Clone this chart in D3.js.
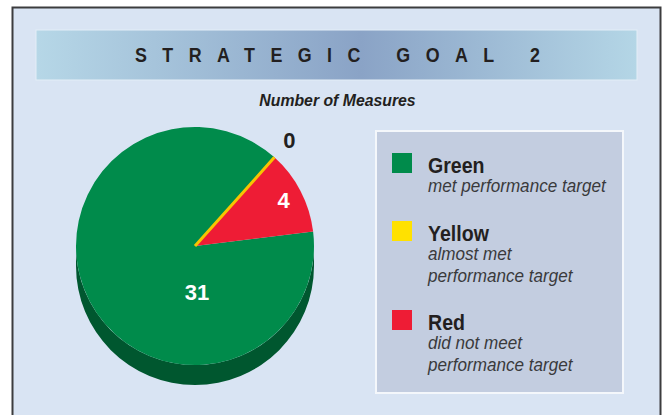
<!DOCTYPE html>
<html>
<head>
<meta charset="utf-8">
<script src="https://cdn.jsdelivr.net/npm/d3@7"></script>
<style>
  body { margin: 0; background: #fff; }
  text { font-family: "Liberation Sans", Arial, Helvetica, sans-serif; }
</style>
</head>
<body>
<svg id="chart" width="662" height="415"></svg>
<script>
var categories = ["Green", "Yellow", "Red"];
var values = [31, 0, 4];
var colors = ["#008b4b", "#ffe100", "#ee1c35"];
var descriptions = [
    ["met performance target"],
    ["almost met", "performance target"],
    ["did not meet", "performance target"]
];
var title = "STRATEGIC GOAL 2";
var subtitle = "Number of Measures";

(function StrategicGoal() {
    var svg = d3.select("#chart");

    // helper: text squeezed horizontally, the fonts here have no narrow cut
    function narrowText(parent, x, y, sx) {
        return parent.append("text")
                     .attr("transform", "translate(" + x + "," + y + ") scale(" + sx + ",1)");
    }

    var defs = svg.append("defs");
    var grad = defs.append("linearGradient").attr("id", "banner");
    grad.append("stop").attr("offset", "0%").attr("stop-color", "#b6d7e7");
    grad.append("stop").attr("offset", "54%").attr("stop-color", "#8aa3c6");
    grad.append("stop").attr("offset", "100%").attr("stop-color", "#b4d6e6");

    // outer frame
    svg.append("rect")
       .attr("x", 12.5).attr("y", 7.5)
       .attr("width", 648).attr("height", 420)
       .attr("fill", "#d9e4f3")
       .attr("stroke", "#3c3c3e")
       .attr("stroke-width", 2);

    // title banner
    svg.append("rect")
       .attr("x", 36).attr("y", 30)
       .attr("width", 601).attr("height", 50)
       .attr("fill", "url(#banner)")
       .attr("stroke", "#e4eef7")
       .attr("stroke-width", 1);

    var sxTitle = 0.85;
    narrowText(svg, 135, 62, sxTitle)
       .attr("textLength", 405 / sxTitle)
       .attr("lengthAdjust", "spacing")
       .style("font-size", "21px")
       .style("font-weight", "bold")
       .attr("fill", "#231f20")
       .text(title.replace(/ /g, "\u00a0"));

    narrowText(svg, 337.5, 106, 0.93)
       .attr("text-anchor", "middle")
       .style("font-size", "17px")
       .style("font-weight", "bold")
       .style("font-style", "italic")
       .attr("fill", "#231f20")
       .text(subtitle);

    // pie
    var cx = 195, cy = 246, radius = 119, depth = 20;
    var data = categories.map(function(c, i) {
        return { cat: c, value: values[i], color: colors[i] };
    });

    var pie = d3.pie()
                .sort(null)
                .value(function(d) { return d.value; })
                .startAngle(83 * Math.PI / 180)
                .endAngle(83 * Math.PI / 180 + 2 * Math.PI);

    var arcs = pie(data);

    var arc = d3.arc().innerRadius(0).outerRadius(radius);

    var g = svg.append("g")
               .attr("transform", "translate(" + cx + "," + cy + ")");

    // side wall, only the front half (angles pi/2 .. 3pi/2) shows
    function sidePath(a0, a1) {
        var p = function(t, dy) {
            return [radius * Math.sin(t), -radius * Math.cos(t) + dy];
        };
        var s = p(a0, 0), e = p(a1, 0), eb = p(a1, depth), sb = p(a0, depth);
        var large = (a1 - a0) > Math.PI ? 1 : 0;
        return "M" + s + "A" + radius + "," + radius + " 0 " + large + " 1 " + e +
               "L" + eb + "A" + radius + "," + radius + " 0 " + large + " 0 " + sb + "Z";
    }

    arcs.forEach(function(d) {
        [0, 2 * Math.PI].forEach(function(shift) {
            var lo = Math.max(d.startAngle, Math.PI / 2 + shift);
            var hi = Math.min(d.endAngle, 3 * Math.PI / 2 + shift);
            if (hi > lo) {
                g.append("path")
                 .attr("d", sidePath(lo, hi))
                 .attr("fill", d3.color(d.data.color).darker(1.3));
            }
        });
    });

    g.selectAll(".slice")
     .data(arcs)
     .enter().append("path")
     .attr("class", "slice")
     .attr("d", arc)
     .attr("fill", function(d) { return d.data.color; })
     .attr("stroke", function(d) { return d.value === 0 ? "#f7c500" : "none"; })
     .attr("stroke-width", 3)
     .filter(function(d) { return d.value === 0; })
     .raise();   // keep the empty slice visible as a line

    var total = d3.sum(values);

    g.selectAll(".lbl")
     .data(arcs)
     .enter().append("text")
     .attr("class", "lbl")
     .attr("transform", function(d) {
         var mid = (d.startAngle + d.endAngle) / 2, rr;
         if (d.value === 0) rr = radius * 1.19;
         else if (d.value > total / 2) return "translate(2," + radius * 0.39 + ")";
         else rr = radius * 0.84;
         return "translate(" + (rr * Math.sin(mid)) + "," + (-rr * Math.cos(mid)) + ")";
     })
     .attr("text-anchor", "middle")
     .attr("dy", "0.36em")
     .style("font-size", "22px")
     .style("font-weight", "bold")
     .attr("fill", function(d) { return d.value === 0 ? "#231f20" : "#fff"; })
     .text(function(d) { return d.value; });

    // legend
    var lg = svg.append("g");
    lg.append("rect")
      .attr("x", 376).attr("y", 131)
      .attr("width", 247).attr("height", 262)
      .attr("fill", "#c3cde0")
      .attr("stroke", "#f4f7fb")
      .attr("stroke-width", 2);

    var y = 153;
    data.forEach(function(d, i) {
        var item = lg.append("g").attr("transform", "translate(392," + y + ")");
        item.append("rect")
            .attr("width", 20).attr("height", 20)
            .attr("fill", d.color);
        narrowText(item, 36, 20, 0.89)
            .style("font-size", "22px")
            .style("font-weight", "bold")
            .attr("fill", "#231f20")
            .text(d.cat);
        descriptions[i].forEach(function(line, j) {
            narrowText(item, 36, 39 + j * 21.5, 0.95)
                .style("font-size", "18px")
                .style("font-style", "italic")
                .attr("fill", "#3a3a3c")
                .text(line);
        });
        y += 47 + 21 * descriptions[i].length;
    });
}());
</script>
</body>
</html>
